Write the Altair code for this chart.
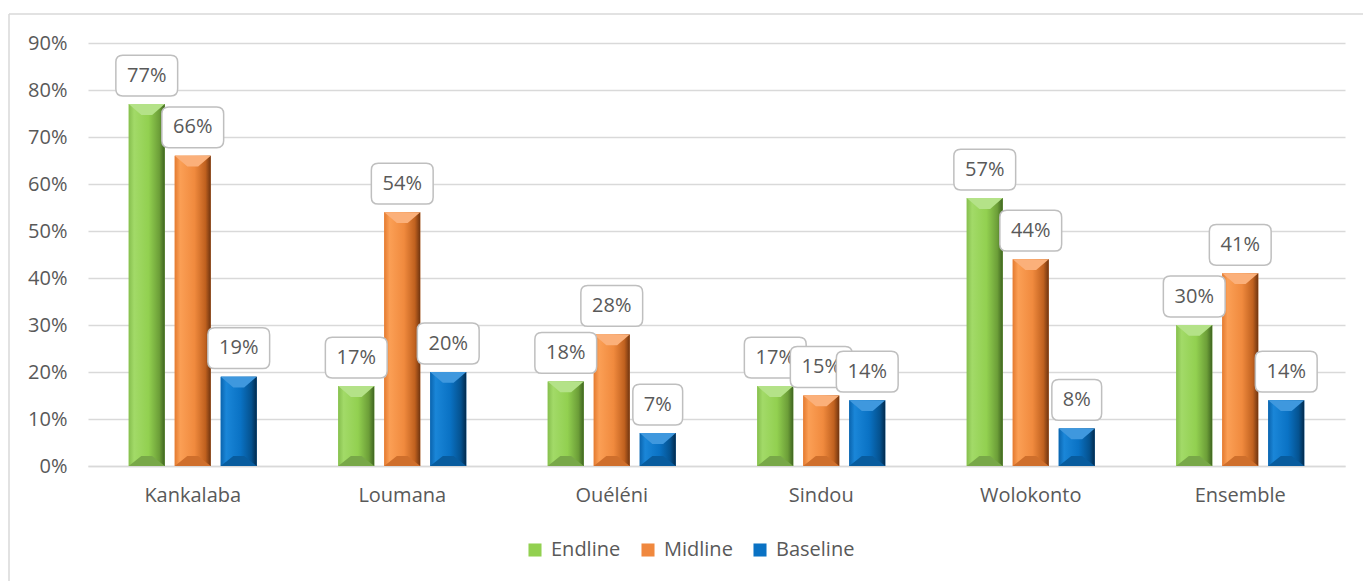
import altair as alt
import pandas as pd

# Share of respondents by commune and survey round
communes = ["Kankalaba", "Loumana", "Ouéléni", "Sindou", "Wolokonto", "Ensemble"]
rounds = ["Endline", "Midline", "Baseline"]
endline = [0.77, 0.17, 0.18, 0.17, 0.57, 0.30]
midline = [0.66, 0.54, 0.28, 0.15, 0.44, 0.41]
baseline = [0.19, 0.20, 0.07, 0.14, 0.08, 0.14]

base_colors = ["#92d050", "#f0883e", "#0a72c4"]
side_stops = {
    "Endline": ["#86bf4e", "#a2da68", "#92d050", "#6c9e38", "#3e6420"],
    "Midline": ["#e47b30", "#fb9f55", "#f08a3e", "#c0611f", "#6e3410"],
    "Baseline": ["#0a64ae", "#1a86d8", "#0a72c4", "#05528f", "#022a4c"],
}
top_bevel = {"Endline": "#b4e288", "Midline": "#fbb07a", "Baseline": "#3f98de"}
bottom_bevel = {"Endline": "#78a848", "Midline": "#cf6f2c", "Baseline": "#085c9e"}

rows = []
for name, vals in zip(rounds, [endline, midline, baseline]):
    for c, v in zip(communes, vals):
        rows.append({"commune": c, "round": name, "value": v})
df = pd.DataFrame(rows)
df["label"] = df["value"].map(lambda v: f"{round(v * 100):d}%")


def rounded_box(w, h, r):
    return (
        f"M{-w + r},{-h} L{w - r},{-h} Q{w},{-h} {w},{-h + r} "
        f"L{w},{h - r} Q{w},{h} {w - r},{h} L{-w + r},{h} "
        f"Q{-w},{h} {-w},{h - r} L{-w},{-h + r} Q{-w},{-h} {-w + r},{-h} Z"
    )


# label boxes: symbol size 3600 -> 1 path unit = 30 px
df["box"] = df["label"].map(
    lambda s: rounded_box(1.03, 0.68, 0.23) if len(s) > 2 else rounded_box(0.83, 0.68, 0.23)
)

FONT = "Open Sans"
FS = 20
TXT = "#595959"
GRID = "#d9d9d9"

x_enc = alt.X(
    "commune:N",
    sort=communes,
    scale=alt.Scale(domain=communes, paddingInner=0.389, paddingOuter=0.1945),
    axis=alt.Axis(
        title=None, labelAngle=0, labelFontSize=FS, labelFont=FONT, labelColor=TXT,
        labelPadding=19, ticks=False, domainColor=GRID, domainWidth=1.5,
    ),
)
xo_enc = alt.XOffset(
    "round:N", sort=rounds,
    scale=alt.Scale(domain=rounds, paddingInner=0.217, paddingOuter=0),
)
y_enc = alt.Y(
    "value:Q",
    scale=alt.Scale(domain=[0, 0.9], nice=False),
    axis=alt.Axis(
        title=None, format=".0%", values=[i / 10 for i in range(10)],
        labelFontSize=FS, labelFont=FONT, labelColor=TXT, labelPadding=21,
        ticks=False, domain=False, gridColor=GRID, gridWidth=1.5,
    ),
)

base = alt.Chart(df)

# flat bars that carry the legend
legend_bars = base.mark_bar().encode(
    x=x_enc, xOffset=xo_enc, y=y_enc,
    color=alt.Color(
        "round:N", sort=rounds,
        scale=alt.Scale(domain=rounds, range=base_colors),
        legend=alt.Legend(
            title=None, orient="none", direction="horizontal",
            legendX=437, legendY=497, labelFontSize=FS, labelFont=FONT,
            labelColor=TXT, symbolType="square", symbolSize=170,
            symbolStrokeWidth=0, columnPadding=17, labelOffset=6,
        ),
    ),
)

layers = [legend_bars]
for name in rounds:
    st = side_stops[name]
    grad = alt.Gradient(
        gradient="linear", x1=0, x2=1, y1=0, y2=0,
        stops=[
            alt.GradientStop(color=st[0], offset=0),
            alt.GradientStop(color=st[1], offset=0.15),
            alt.GradientStop(color=st[2], offset=0.55),
            alt.GradientStop(color=st[3], offset=0.85),
            alt.GradientStop(color=st[4], offset=1),
        ],
    )
    sub = base.transform_filter(alt.datum["round"] == name)
    layers.append(sub.mark_bar(color=grad).encode(x=x_enc, xOffset=xo_enc, y=y_enc))
    layers.append(
        sub.mark_point(
            shape="M-1,0 L1,0 L0.3,0.6 L-0.3,0.6 Z", size=1296,
            filled=True, color=top_bevel[name], opacity=1,
        ).encode(x=x_enc, xOffset=xo_enc, y=y_enc)
    )
    layers.append(
        sub.mark_point(
            shape="M-1,0 L1,0 L0.3,-0.55 L-0.3,-0.55 Z", size=1296,
            filled=True, color=bottom_bevel[name], opacity=1,
        ).encode(x=x_enc, xOffset=xo_enc, y=alt.datum(0))
    )

# value labels in rounded boxes, one round at a time so later boxes sit on top
for name in rounds:
    sub = base.transform_filter(alt.datum["round"] == name)
    layers.append(
        sub.mark_point(
            size=3600, filled=True, fill="white", stroke="#bfbfbf",
            strokeWidth=1.5, opacity=1, yOffset=-28.5,
        ).encode(
            x=x_enc, xOffset=xo_enc, y=y_enc,
            shape=alt.Shape("box:N", scale=None, legend=None),
        )
    )
    layers.append(
        sub.mark_text(
            fontSize=FS, font=FONT, color=TXT, yOffset=-28.5, baseline="middle",
        ).encode(x=x_enc, xOffset=xo_enc, y=y_enc, text="label:N")
    )

# outer frame lines
frame_df = pd.DataFrame({"k": [0]})
frame_left = alt.Chart(frame_df).mark_rule(color=GRID, strokeWidth=1.5).encode(
    x=alt.value(-79), y=alt.value(-29), y2=alt.value(545)
)
frame_top = alt.Chart(frame_df).mark_rule(color=GRID, strokeWidth=1.5).encode(
    x=alt.value(-79), x2=alt.value(1280), y=alt.value(-29)
)
layers += [frame_left, frame_top]

chart = (
    alt.layer(*layers)
    .properties(
        width=1257, height=423,
        autosize=alt.AutoSizeParams(type="none"),
        padding={"left": 88, "top": 43, "right": 18, "bottom": 115},
        background="white",
    )
    .configure_view(stroke=None)
)

chart.save("out.html", embed_options={"renderer": "svg", "actions": False})
